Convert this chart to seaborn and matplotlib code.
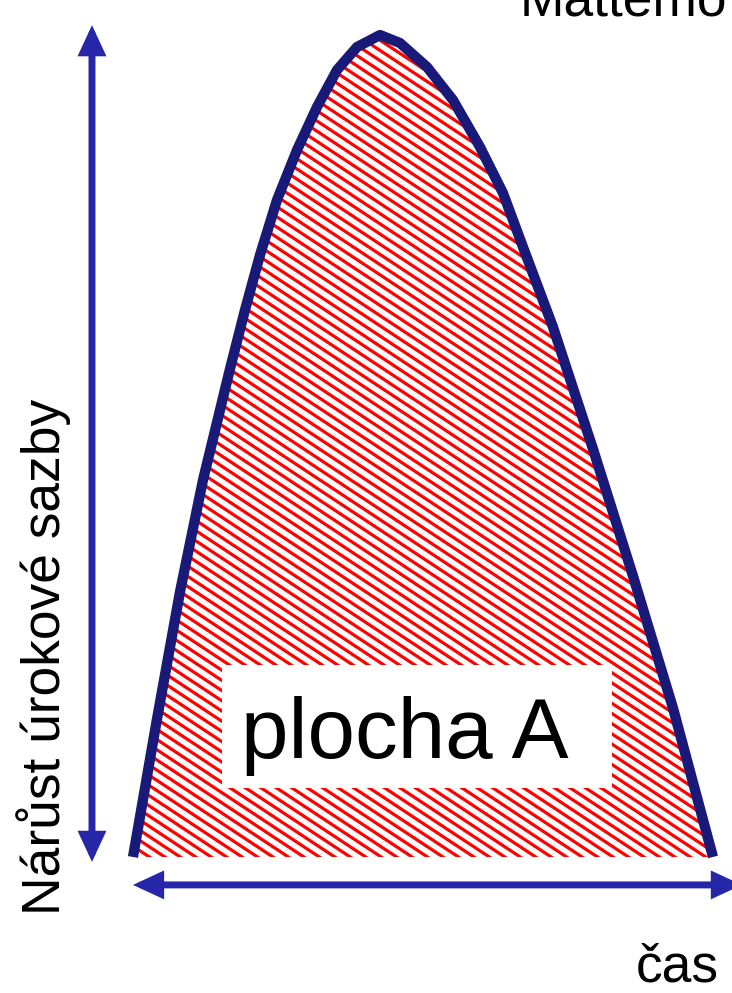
import matplotlib
matplotlib.use("Agg")
import matplotlib.pyplot as plt
from matplotlib.patches import Rectangle
from matplotlib.collections import LineCollection
from matplotlib.transforms import IdentityTransform
import numpy as np
import pandas as pd
import seaborn as sns

# Hump of the interest-rate increase over time (time 0..10, increase 0..10)
time_pts = [0.000, 0.414, 0.810, 1.207, 1.672, 1.931, 2.190, 2.483, 2.828,
            3.172, 3.517, 3.862, 4.259, 4.603, 5.069, 5.517, 5.983, 6.379,
            6.724, 7.241, 7.931, 8.621, 9.310, 10.000]
rate_pts = [0.000, 1.679, 3.224, 4.586, 5.937, 6.655, 7.324, 7.993, 8.601,
            9.124, 9.574, 9.854, 10.000, 9.903, 9.611, 9.209, 8.637, 8.078,
            7.421, 6.448, 4.964, 3.418, 1.813, 0.000]

y_label = "Nárůst úrokové sazby"
x_label = "čas"
area_label = "plocha A"
top_text = "Mattemo"

sns.set_theme(style="white")
plt.rcParams["font.family"] = ["Liberation Sans", "DejaVu Sans"]

W, H = 732, 993
fig = plt.figure(figsize=(W / 100, H / 100), dpi=100)
ax = fig.add_axes([0, 0, 1, 1])
ax.set_xlim(-2.293, 10.328)
ax.set_ylim(-1.655, 10.426)
ax.axis("off")

df = pd.DataFrame({"time": time_pts, "rate": rate_pts})

# area under the curve, filled white and striped red
area = ax.fill(df["time"], df["rate"], facecolor="white",
               edgecolor="none", linewidth=0, zorder=1)[0]

slope = 0.66          # stripe descent per pixel to the right
spacing = 10.2        # vertical distance between stripes, px
offsets = np.arange(0, H + slope * W + spacing, spacing)
segments = [[(0, c), (W, c - slope * W)] for c in offsets]
stripes = LineCollection(segments, colors="#ff0000", linewidths=2.3,
                         transform=IdentityTransform(), zorder=2)
ax.add_collection(stripes)
stripes.set_clip_path(area)

sns.lineplot(data=df, x="time", y="rate", color="#191978", linewidth=7.4,
             sort=False, estimator=None, solid_capstyle="butt",
             solid_joinstyle="round", ax=ax, zorder=4)

arrow_kw = dict(arrowstyle="<|-|>,head_length=14,head_width=6.5",
                mutation_scale=1, color="#2626a8", lw=5,
                shrinkA=0, shrinkB=0, joinstyle="miter")
# vertical (rate) axis arrow
ax.annotate("", xy=(-0.707, 10.12), xytext=(-0.707, -0.06),
            arrowprops=arrow_kw, annotation_clip=False)
# horizontal (time) axis arrow
ax.annotate("", xy=(10.5, -0.34), xytext=(0.0, -0.34),
            arrowprops=arrow_kw, annotation_clip=False)

# white label box inside the area
ax.add_patch(Rectangle((222 / W, 1 - 788 / H), 390 / W, 123 / H,
                       transform=fig.transFigure, facecolor="white",
                       edgecolor="none", zorder=3))
fig.text(241 / W, 1 - 758 / H, area_label, fontsize=61.5, ha="left",
         va="baseline", color="black", zorder=5)

fig.text(60 / W, 1 - 657 / H, y_label, fontsize=38.4, rotation=90,
         rotation_mode="anchor", ha="center", va="baseline", color="black")
fig.text(636 / W, 1 - 981 / H, x_label, fontsize=38.4, ha="left",
         va="baseline", color="black")
fig.text(520 / W, 1 - 15 / H, top_text, fontsize=38.4, ha="left",
         va="baseline", color="black")

fig.savefig("out.png", dpi=100, facecolor="white")
